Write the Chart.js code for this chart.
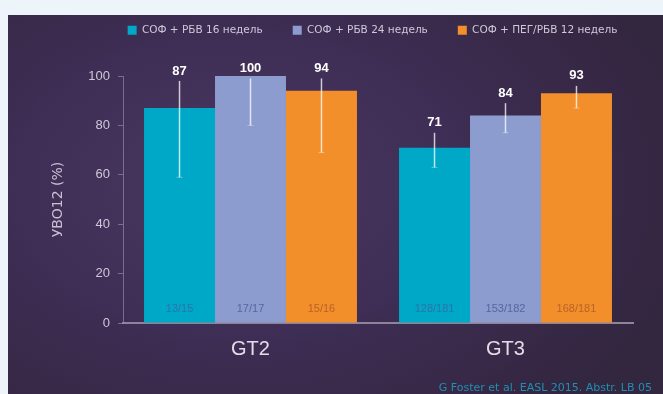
<!DOCTYPE html>
<html>
<head>
<meta charset="utf-8">
<script src="https://cdn.jsdelivr.net/npm/chart.js@4.4.1/dist/chart.umd.min.js"></script>
<style>
  html, body { margin: 0; padding: 0; background: #eef5fa; }
  #wrap { position: relative; width: 663px; height: 394px; overflow: hidden; }
  #panel {
    position: absolute; left: 8px; top: 15px; width: 655px; height: 379px;
    background: radial-gradient(ellipse 70% 80% at 35% 45%, #4a3862 0%, #3e2d54 50%, #33263f 100%);
  }
  #chart { position: absolute; left: 0; top: 0; }
  #src {
    position: absolute; right: 11px; bottom: 0px;
    font: 11px "DejaVu Sans", sans-serif; color: #1f8fb3;
  }
</style>
</head>
<body>
<div id="wrap">
  <div id="panel"></div>
  <canvas id="chart" width="663" height="394"></canvas>
  <div id="src">G Foster et al. EASL 2015. Abstr. LB 05</div>
</div>
<script>
// группы генотипов
const genotypes = ['GT2', 'GT3'];
const seriesNames = ['СОФ + РБВ 16 недель', 'СОФ + РБВ 24 недель', 'СОФ + ПЕГ/РБВ 12 недель'];
const seriesColors = ['#00a8c8', '#8c9ccf', '#f28f2a'];
const countColors = ['#2b74a8', '#5a64a0', '#b9622a'];

// УВО12, %
const sof16 = [87, 71];
const sof24 = [100, 84];
const sofPeg12 = [94, 93];

// доверительные интервалы (нижняя / верхняя граница)
const ciLow = [[59, 63], [80, 77], [69, 87]];
const ciHigh = [[98, 77], [99, 89], [99, 96]];

// число пациентов
const counts = [['13/15', '128/181'], ['17/17', '153/182'], ['15/16', '168/181']];

const yTicks = [0, 20, 40, 60, 80, 100];

const values = [sof16, sof24, sofPeg12];

// легенда: отступ до области графика и сдвиг вправо
const legendBox = {
  id: 'legendBox',
  afterInit(chart) {
    const legend = chart.legend;
    const fit = legend.fit;
    legend.fit = function () {
      fit.call(this);
      this.height = 81;
    };
  },
  afterLayout(chart) {
    chart.legend.left += 31;
    chart.legend.right += 31;
  }
};

// планки погрешностей, подписи значений и числа пациентов
const barExtras = {
  id: 'barExtras',
  afterDatasetsDraw(chart) {
    const ctx = chart.ctx;
    const y = chart.scales.y;
    chart.data.datasets.forEach((ds, i) => {
      const meta = chart.getDatasetMeta(i);
      meta.data.forEach((bar, j) => {
        const x = bar.x;
        const top = y.getPixelForValue(ciHigh[i][j]);
        const bottom = y.getPixelForValue(ciLow[i][j]);
        ctx.save();
        ctx.strokeStyle = 'rgba(255,255,255,0.75)';
        ctx.lineWidth = 1.5;
        ctx.beginPath();
        ctx.moveTo(x, top);
        ctx.lineTo(x, bottom);
        ctx.stroke();
        ctx.lineWidth = 1;
        ctx.strokeStyle = 'rgba(255,255,255,0.35)';
        ctx.beginPath();
        ctx.moveTo(x - 3, bottom);
        ctx.lineTo(x + 3, bottom);
        ctx.stroke();

        ctx.fillStyle = '#ffffff';
        ctx.font = 'bold 13px "Liberation Sans", Arial, sans-serif';
        ctx.textAlign = 'center';
        ctx.textBaseline = 'middle';
        ctx.fillText(String(values[i][j]), x, top - 10);

        ctx.fillStyle = countColors[i];
        ctx.font = '11px "Liberation Sans", Arial, sans-serif';
        ctx.fillText(counts[i][j], x, y.getPixelForValue(0) - 14);
        ctx.restore();
      });
    });
  }
};

new Chart(document.getElementById('chart'), {
  type: 'bar',
  data: {
    labels: genotypes,
    datasets: seriesNames.map((name, i) => ({
      label: name,
      data: values[i],
      backgroundColor: seriesColors[i],
      borderWidth: 0,
      categoryPercentage: 0.835,
      barPercentage: 1.0
    }))
  },
  options: {
    responsive: false,
    animation: false,
    layout: { padding: { left: 50, right: 30, top: -5, bottom: 27 } },
    plugins: {
      legend: {
        display: true,
        position: 'top',
        fullSize: true,
        labels: {
          color: '#cfc8da',
          boxWidth: 9,
          boxHeight: 9,
          padding: 30,
          font: { size: 10.5, family: '"DejaVu Sans", sans-serif' }
        }
      },
      tooltip: { enabled: false }
    },
    scales: {
      x: {
        grid: { display: false },
        border: { display: true, color: '#8d8499', width: 2 },
        ticks: {
          color: '#e2dde9',
          padding: 6,
          font: { size: 20, family: '"Liberation Sans", Arial, sans-serif' }
        }
      },
      y: {
        min: 0,
        max: 100,
        afterBuildTicks: axis => { axis.ticks = yTicks.map(v => ({ value: v })); },
        afterFit: axis => { axis.width = 73; },
        grid: { drawOnChartArea: false, color: 'rgba(160,150,175,0.6)', tickLength: 5 },
        border: { display: true, color: 'rgba(160,150,175,0.6)', width: 1 },
        ticks: {
          color: '#cfc8da',
          padding: 8,
          font: { size: 13, family: '"Liberation Sans", Arial, sans-serif' }
        },
        title: {
          display: true,
          text: 'УВО12 (%)',
          color: '#c8c0d3',
          padding: 0,
          font: { size: 14, family: '"DejaVu Sans", sans-serif' }
        }
      }
    }
  },
  plugins: [legendBox, barExtras]
});
</script>
</body>
</html>
